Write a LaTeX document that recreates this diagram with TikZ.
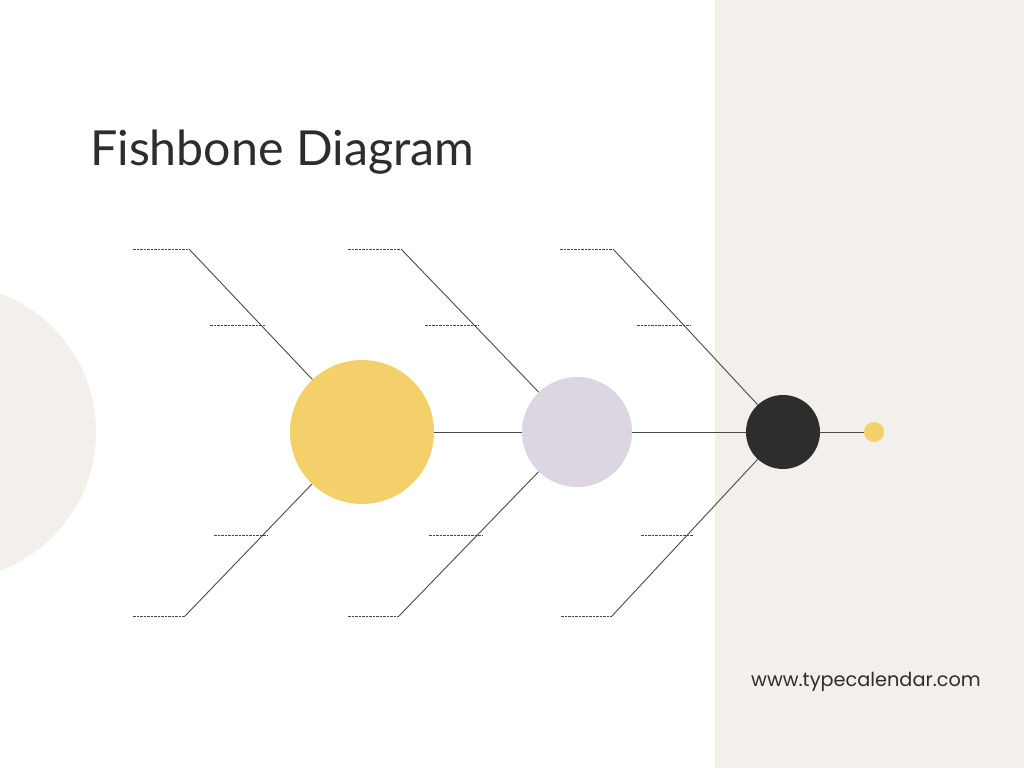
\documentclass[tikz,border=0pt]{standalone}
\usepackage{fontspec}
\setmainfont{Lato}
\newfontfamily\urlfont{Poppins}
\definecolor{beige}{HTML}{F3EFEA}
\definecolor{fishyellow}{HTML}{F4D06A}
\definecolor{lavender}{HTML}{DCD6E2}
\definecolor{dark}{HTML}{2E2D2D}
\definecolor{bone}{HTML}{4A4A4A}
\begin{document}
\begin{tikzpicture}[x=1pt,y=-1pt,
  ball/.style={circle,inner sep=0pt,minimum size=#1},
  boneline/.style={draw=bone,line width=0.9pt},
  dashline/.style={draw=bone,line width=0.7pt,dash pattern=on 2.5pt off 1pt}]
\useasboundingbox (0,0) rectangle (1024,768);
\fill[white] (0,0) rectangle (1024,768);
\fill[beige] (715,0) rectangle (1024,768);
\begin{scope}
\clip (0,0) rectangle (1024,768);
\fill[beige] (-52,432) circle (148);
\end{scope}
\node[anchor=base west,text=dark,font=\fontsize{48.3}{52}\selectfont,inner sep=0pt] (title) at (90,165) {Fishbone Diagram};
\node[anchor=base west,text=dark,font=\urlfont\fontsize{19.3}{22}\selectfont,inner sep=0pt] (url) at (751,686) {www.typecalendar.com};
% balls
\node[ball=144pt,fill=fishyellow] (y) at (362,432) {};
\node[ball=110pt,fill=lavender] (l) at (577,432) {};
\node[ball=74pt,fill=dark] (k) at (783,432) {};
\node[ball=20pt,fill=fishyellow] (d) at (874,432) {};
% spine
\draw[boneline] (y) -- (l);
\draw[boneline] (l) -- (k);
\draw[boneline] (k) -- (d);
% group 1
\coordinate (a1) at (189,249); \coordinate (a0) at (133,249);
\coordinate (b1) at (185,616); \coordinate (b0) at (133,616);
\draw[boneline] (a1) -- (y);
\draw[boneline] (b1) -- (y);
\draw[dashline] (a0) -- (a1);
\draw[dashline] (b0) -- (b1);
\coordinate (am1) at (210,325); \coordinate (am2) at (265,325);
\coordinate (bm1) at (214,535); \coordinate (bm2) at (268,535);
\draw[dashline] (am1) -- (am2);
\draw[dashline] (bm1) -- (bm2);
% group 2
\coordinate (c1) at (401,249); \coordinate (c0) at (348,249);
\coordinate (e1) at (399,616); \coordinate (e0) at (348,616);
\draw[boneline] (c1) -- (l);
\draw[boneline] (e1) -- (l);
\draw[dashline] (c0) -- (c1);
\draw[dashline] (e0) -- (e1);
\coordinate (cm1) at (425,325); \coordinate (cm2) at (478,325);
\coordinate (em1) at (429,535); \coordinate (em2) at (482,535);
\draw[dashline] (cm1) -- (cm2);
\draw[dashline] (em1) -- (em2);
% group 3
\coordinate (f1) at (613,249); \coordinate (f0) at (560,249);
\coordinate (g1) at (612,616); \coordinate (g0) at (561,616);
\draw[boneline] (f1) -- (k);
\draw[boneline] (g1) -- (k);
\draw[dashline] (f0) -- (f1);
\draw[dashline] (g0) -- (g1);
\coordinate (fm1) at (637,325); \coordinate (fm2) at (690,325);
\coordinate (gm1) at (641,535); \coordinate (gm2) at (693,535);
\draw[dashline] (fm1) -- (fm2);
\draw[dashline] (gm1) -- (gm2);
\end{tikzpicture}
\end{document}
